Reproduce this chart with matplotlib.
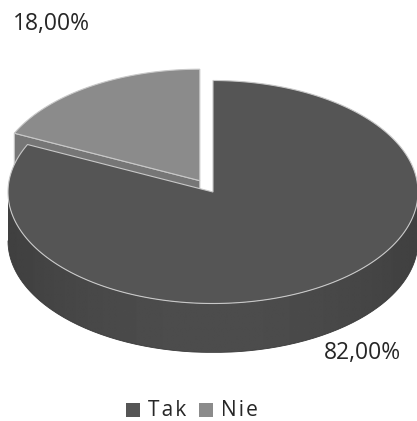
import numpy as np
import matplotlib.pyplot as plt
from matplotlib.patches import Polygon, Rectangle

labels = ['Tak', 'Nie']
shares = [82.0, 18.0]
label_text = ['82,00%', '18,00%']

top_colors = ['#555555', '#8b8b8b']
cut_colors = ['#4a4a4a', '#767676']
edge_color = '#c8c8c8'

W, H = 417, 421
cx, cy = 213, 192          # centre of the top ellipse (pixels)
rx, ry = 205, 111.5        # ellipse radii
depth = 49                 # pie thickness
explode = [0.0, 0.12]

fig = plt.figure(figsize=(W / 100, H / 100), dpi=100)
ax = fig.add_axes([0, 0, 1, 1])
ax.set_xlim(0, W)
ax.set_ylim(H, 0)
ax.axis('off')


def rim(t, ox, oy, dz=0):
    return np.column_stack([cx + ox + rx * np.cos(t), cy + oy - ry * np.sin(t) + dz])


# slice angles: first slice clockwise from 12 o'clock ends where the second begins
total = sum(shares)
spans = [2 * np.pi * s / total for s in shares]
start_nie = np.pi / 2
end_nie = start_nie + spans[1]
slices = {
    'Tak': (end_nie, end_nie + spans[0]),
    'Nie': (start_nie, end_nie),
}

# ---- Nie (exploded, at the back) ----
t0, t1 = slices['Nie']
mid = (t0 + t1) / 2
ox, oy = explode[1] * rx * np.cos(mid), -explode[1] * ry * np.sin(mid)
apex = np.array([cx + ox, cy + oy])
edge_pt = rim(np.array([t1]), ox, oy)[0]
cut = np.array([apex, edge_pt, edge_pt + [0, depth], apex + [0, depth]])
ax.add_patch(Polygon(cut, closed=True, fc=cut_colors[1], ec=edge_color, lw=0.8))
ts = np.linspace(t0, t1, 80)
top = np.vstack([apex, rim(ts, ox, oy)])
ax.add_patch(Polygon(top, closed=True, fc=top_colors[1], ec=edge_color, lw=0.8))

# ---- Tak ----
t0, t1 = slices['Tak']
# outer wall, front half only, with a soft horizontal gradient
wall = np.linspace(np.pi, 2 * np.pi, 200)
wall_poly = np.vstack([rim(wall, 0, 0), rim(wall[::-1], 0, 0, depth)])
wall_patch = Polygon(wall_poly, closed=True, fc='none', ec='none')
ax.add_patch(wall_patch)
xs = np.linspace(-1, 1, 300)
grad = 0.25 + 0.05 * (1 - xs ** 2)
grad = np.tile(grad, (10, 1))
img = ax.imshow(grad, cmap='gray', vmin=0, vmax=1, aspect='auto',
                extent=(cx - rx, cx + rx, cy + ry + depth, cy - 5), interpolation='bilinear')
img.set_clip_path(wall_patch)
outline = rim(wall, 0, 0, depth)
ax.plot(outline[:, 0], outline[:, 1], color='#3a3a3a', lw=0.6)
ax.set_xlim(0, W)
ax.set_ylim(H, 0)

ts = np.linspace(t0, t1, 300)
top = np.vstack([[cx, cy], rim(ts, 0, 0)])
ax.add_patch(Polygon(top, closed=True, fc=top_colors[0], ec=edge_color, lw=0.8))

# data labels
ax.text(51, 24, label_text[1], ha='center', va='center', fontsize=16.5,
        family='Open Sans', color='#262626')
ax.text(362, 353, label_text[0], ha='center', va='center', fontsize=16.5,
        family='Open Sans', color='#262626')

# legend
leg_y = 410
x = 126
for name, col in zip(labels, top_colors):
    ax.add_patch(Rectangle((x, leg_y - 7), 14, 14, fc=col, ec='none'))
    ax.text(x + 22, leg_y + 1, '\u200a'.join(name), ha='left', va='center', fontsize=15,
            family='Open Sans', color='#262626')
    x += 73

fig.savefig('out.png', dpi=100)
